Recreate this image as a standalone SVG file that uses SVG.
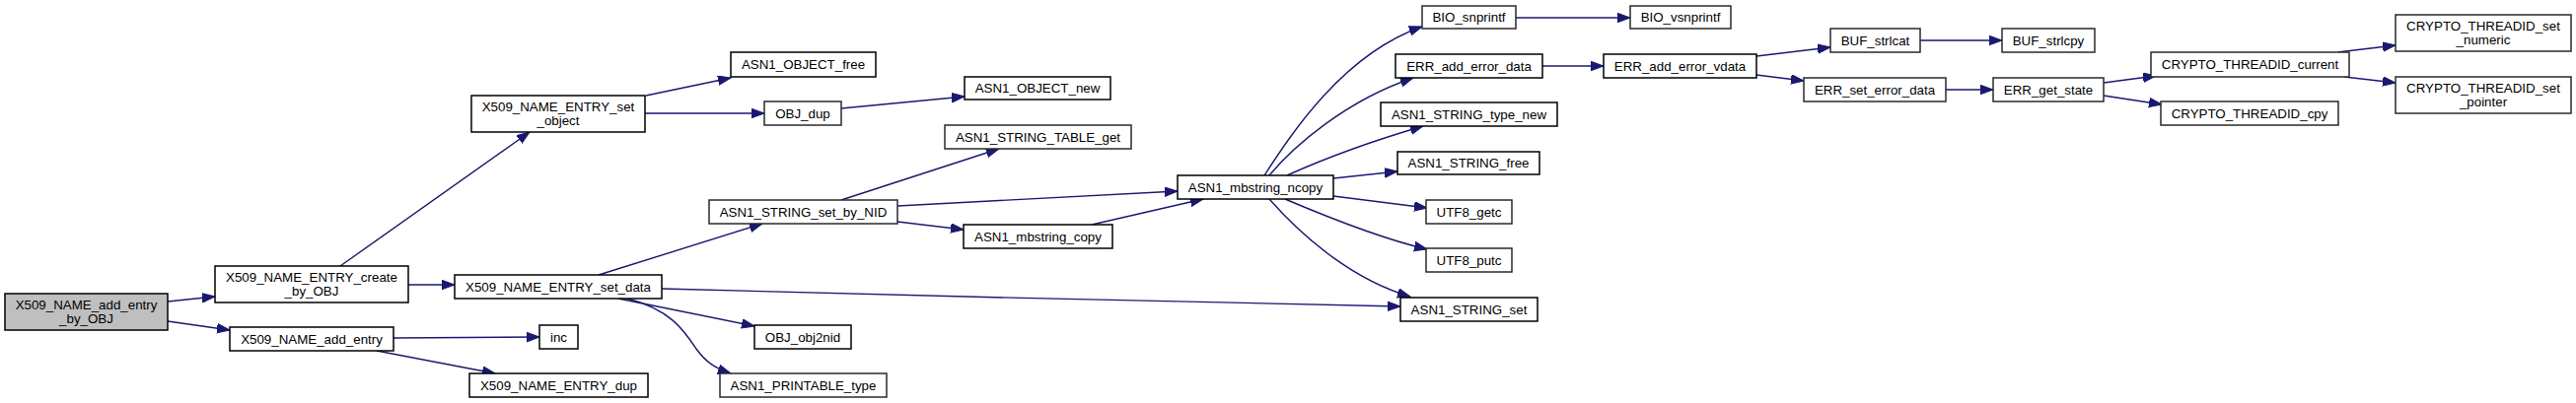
<svg xmlns="http://www.w3.org/2000/svg" width="2612" height="409" viewBox="0 0 2612 409">
<defs>
<marker id="ah" markerUnits="userSpaceOnUse" markerWidth="15" markerHeight="11" refX="13" refY="5" orient="auto">
<path d="M0,0.25 L13,5 L0,9.75 z" fill="#191970" stroke="#191970" stroke-width="1"/>
</marker>
<style>
.n rect{fill:#ffffff;stroke:#000000;stroke-width:1.5}
.n.root rect{fill:#bfbfbf;stroke:#000000}
.n.g rect{stroke:#2a2a2a}
.n text{font-family:"Liberation Sans",Arial,Helvetica,sans-serif;font-size:13.33px;fill:#000000;text-anchor:middle}
#edges path{fill:none;stroke:#191970;stroke-width:1.4;marker-end:url(#ah)}
</style>
</defs>
<rect x="0" y="0" width="2612" height="409" fill="#ffffff"/>
<g id="edges">
<path d="M170,306 L218,301"/>
<path d="M170,326 L233,335"/>
<path d="M345,270 L537,134"/>
<path d="M414,289 L461,289"/>
<path d="M655,97 L741,79"/>
<path d="M654,115 L775,115"/>
<path d="M853,110 L978,98"/>
<path d="M607,279 L773,227"/>
<path d="M671,293 C900,298 1200,308 1420,311"/>
<path d="M627,303 L765,331"/>
<path d="M636,303 C680,314 694,336 706,354 C716,368 726,374 741,379"/>
<path d="M399,343 L547,342"/>
<path d="M382,356 L502,379"/>
<path d="M853,203 L1013,151"/>
<path d="M910,209 L1194,194"/>
<path d="M910,225 L977,233"/>
<path d="M1107,228 L1220,202"/>
<path d="M1282,178 C1310,135 1362,55 1442,27"/>
<path d="M1287,178 C1312,148 1365,102 1433,79"/>
<path d="M1305,178 C1345,160 1395,142 1443,128"/>
<path d="M1352,181 L1417,174"/>
<path d="M1352,199 L1447,211"/>
<path d="M1303,202 C1350,222 1400,242 1447,253"/>
<path d="M1287,202 C1325,245 1375,285 1430,301"/>
<path d="M1537,18 L1653,18"/>
<path d="M1564,67 L1626,67"/>
<path d="M1781,57 L1856,48"/>
<path d="M1781,76 L1829,82"/>
<path d="M1947,41 L2030,41"/>
<path d="M1973,91 L2021,91"/>
<path d="M2133,84 L2186,77"/>
<path d="M2133,97 L2192,106"/>
<path d="M2370,53 L2429,46"/>
<path d="M2377,78 L2429,84"/>
</g>
<g id="n_add_entry_by_OBJ" class="n root"><rect x="5" y="298" width="165" height="37"/><text x="87.5" y="314">X509_NAME_add_entry</text><text x="87.5" y="328">_by_OBJ</text></g>
<g id="n_create_by_OBJ" class="n"><rect x="218" y="270" width="196" height="37"/><text x="316" y="286">X509_NAME_ENTRY_create</text><text x="316" y="300">_by_OBJ</text></g>
<g id="n_add_entry" class="n"><rect x="233" y="332" width="166" height="24"/><text x="316" y="348.5">X509_NAME_add_entry</text></g>
<g id="n_set_object" class="n"><rect x="478" y="97" width="176" height="37"/><text x="566" y="113">X509_NAME_ENTRY_set</text><text x="566" y="127">_object</text></g>
<g id="n_set_data" class="n"><rect x="461" y="279" width="210" height="24"/><text x="566" y="295.5">X509_NAME_ENTRY_set_data</text></g>
<g id="n_inc" class="n"><rect x="547" y="330" width="39" height="24"/><text x="566.5" y="346.5">inc</text></g>
<g id="n_entry_dup" class="n"><rect x="476" y="379" width="181" height="24"/><text x="566.5" y="395.5">X509_NAME_ENTRY_dup</text></g>
<g id="n_obj_free" class="n"><rect x="741" y="53" width="147" height="25"/><text x="814.5" y="70">ASN1_OBJECT_free</text></g>
<g id="n_obj_dup" class="n g"><rect x="775" y="103" width="78" height="24"/><text x="814" y="119.5">OBJ_dup</text></g>
<g id="n_set_by_nid" class="n g"><rect x="719" y="203" width="191" height="24"/><text x="814.5" y="219.5">ASN1_STRING_set_by_NID</text></g>
<g id="n_obj2nid" class="n"><rect x="765" y="330" width="98" height="24"/><text x="814" y="346.5">OBJ_obj2nid</text></g>
<g id="n_printable_type" class="n g"><rect x="730" y="379" width="169" height="24"/><text x="814.5" y="395.5">ASN1_PRINTABLE_type</text></g>
<g id="n_obj_new" class="n"><rect x="978" y="78" width="148" height="23"/><text x="1052" y="94">ASN1_OBJECT_new</text></g>
<g id="n_table_get" class="n g"><rect x="958" y="127" width="189" height="24"/><text x="1052.5" y="143.5">ASN1_STRING_TABLE_get</text></g>
<g id="n_mbstring_copy" class="n"><rect x="977" y="228" width="151" height="24"/><text x="1052.5" y="244.5">ASN1_mbstring_copy</text></g>
<g id="n_ncopy" class="n"><rect x="1194" y="178" width="158" height="24"/><text x="1273" y="194.5">ASN1_mbstring_ncopy</text></g>
<g id="n_bio_snprintf" class="n g"><rect x="1442" y="6" width="95" height="23"/><text x="1489.5" y="22">BIO_snprintf</text></g>
<g id="n_err_add_error_data" class="n"><rect x="1415" y="55" width="149" height="24"/><text x="1489.5" y="71.5">ERR_add_error_data</text></g>
<g id="n_type_new" class="n"><rect x="1400" y="104" width="179" height="24"/><text x="1489.5" y="120.5">ASN1_STRING_type_new</text></g>
<g id="n_string_free" class="n"><rect x="1417" y="154" width="144" height="23"/><text x="1489" y="170">ASN1_STRING_free</text></g>
<g id="n_utf8_getc" class="n g"><rect x="1446" y="203" width="87" height="24"/><text x="1489.5" y="219.5">UTF8_getc</text></g>
<g id="n_utf8_putc" class="n g"><rect x="1446" y="252" width="87" height="24"/><text x="1489.5" y="268.5">UTF8_putc</text></g>
<g id="n_string_set" class="n"><rect x="1420" y="302" width="139" height="24"/><text x="1489.5" y="318.5">ASN1_STRING_set</text></g>
<g id="n_bio_vsnprintf" class="n g"><rect x="1653" y="6" width="102" height="23"/><text x="1704" y="22">BIO_vsnprintf</text></g>
<g id="n_err_add_error_vdata" class="n"><rect x="1626" y="55" width="155" height="24"/><text x="1703.5" y="71.5">ERR_add_error_vdata</text></g>
<g id="n_buf_strlcat" class="n g"><rect x="1856" y="29" width="91" height="24"/><text x="1901.5" y="45.5">BUF_strlcat</text></g>
<g id="n_err_set_error_data" class="n g"><rect x="1829" y="79" width="144" height="24"/><text x="1901" y="95.5">ERR_set_error_data</text></g>
<g id="n_buf_strlcpy" class="n g"><rect x="2030" y="29" width="94" height="24"/><text x="2077" y="45.5">BUF_strlcpy</text></g>
<g id="n_err_get_state" class="n g"><rect x="2021" y="79" width="112" height="24"/><text x="2077" y="95.5">ERR_get_state</text></g>
<g id="n_threadid_current" class="n g"><rect x="2181" y="53" width="201" height="25"/><text x="2281.5" y="70">CRYPTO_THREADID_current</text></g>
<g id="n_threadid_cpy" class="n g"><rect x="2191" y="103" width="180" height="24"/><text x="2281" y="119.5">CRYPTO_THREADID_cpy</text></g>
<g id="n_threadid_set_numeric" class="n g"><rect x="2429" y="15" width="178" height="37"/><text x="2518" y="31">CRYPTO_THREADID_set</text><text x="2518" y="45">_numeric</text></g>
<g id="n_threadid_set_pointer" class="n g"><rect x="2429" y="78" width="178" height="37"/><text x="2518" y="94">CRYPTO_THREADID_set</text><text x="2518" y="108">_pointer</text></g>
</svg>
